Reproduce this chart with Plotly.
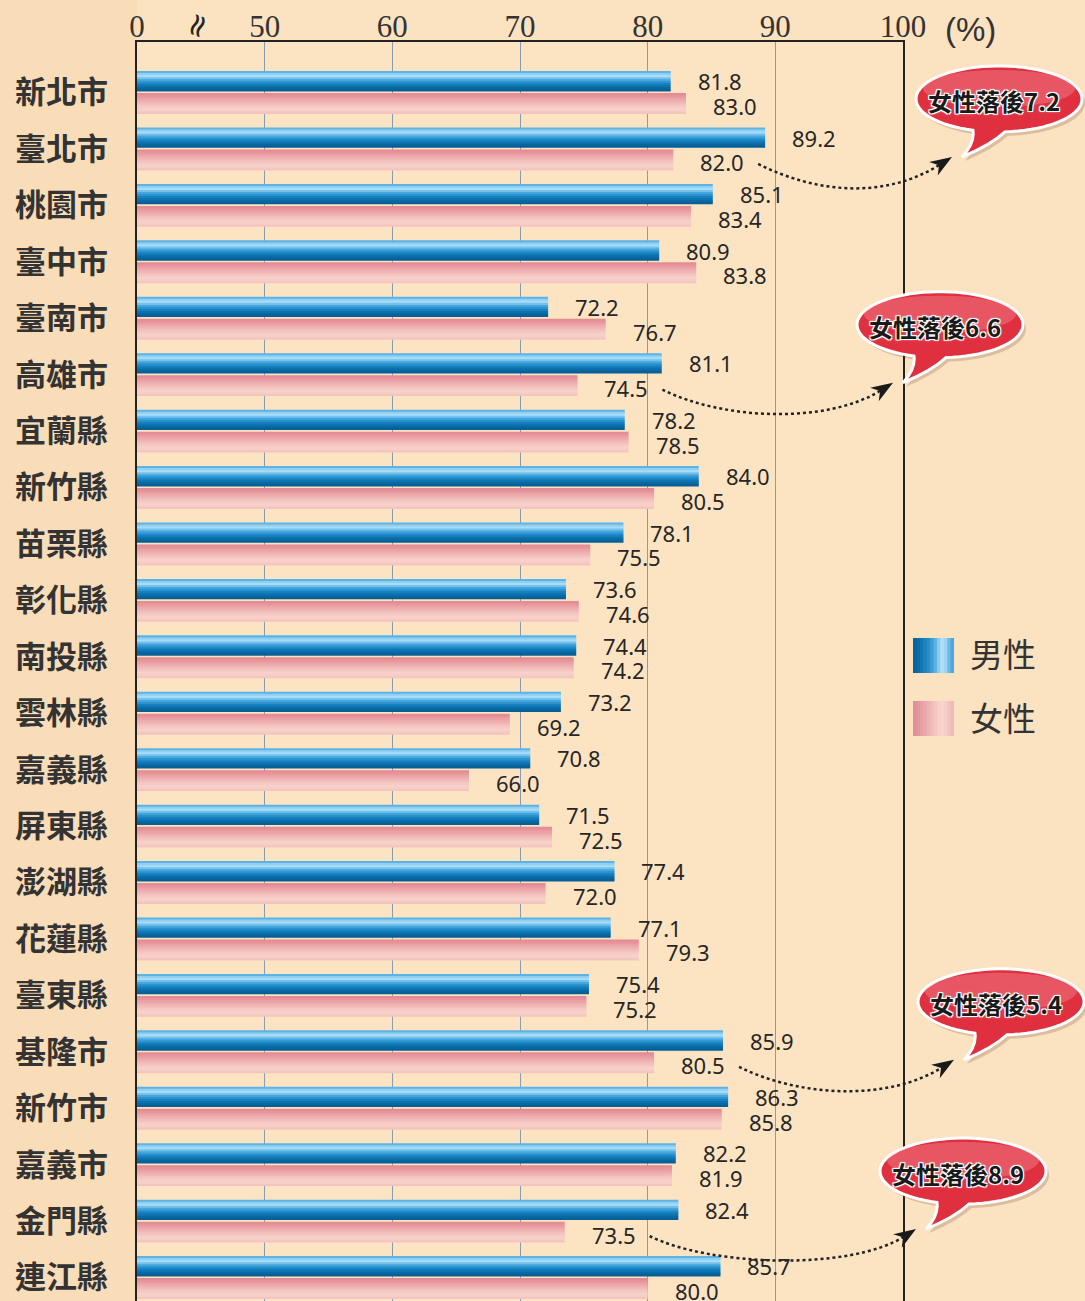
import math
import plotly.graph_objects as go

# ---------------- data ----------------
categories = ["新北市", "臺北市", "桃園市", "臺中市", "臺南市", "高雄市", "宜蘭縣",
              "新竹縣", "苗栗縣", "彰化縣", "南投縣", "雲林縣", "嘉義縣", "屏東縣",
              "澎湖縣", "花蓮縣", "臺東縣", "基隆市", "新竹市", "嘉義市", "金門縣", "連江縣"]
male = [81.8, 89.2, 85.1, 80.9, 72.2, 81.1, 78.2, 84.0, 78.1, 73.6, 74.4,
        73.2, 70.8, 71.5, 77.4, 77.1, 75.4, 85.9, 86.3, 82.2, 82.4, 85.7]
female = [83.0, 82.0, 83.4, 83.8, 76.7, 74.5, 78.5, 80.5, 75.5, 74.6, 74.2,
          69.2, 66.0, 72.5, 72.0, 79.3, 75.2, 80.5, 85.8, 81.9, 73.5, 80.0]
x_tickvals = [40, 50, 60, 70, 80, 90, 100]
x_ticktext = ["0", "50", "60", "70", "80", "90", "100"]
callout_rows = ["臺北市", "高雄市", "基隆市", "金門縣"]
series_names = ["男性", "女性"]

# ---------------- layout geometry ----------------
W, H = 1085, 1301
ML, MR, MT, MB = 137, 182, 42, 0
X0, X1 = 40, 100
Y_TOP, Y_BOT = -0.895, 21.416
PW, PH = W - ML - MR, H - MT - MB
bubble_cx = [999, 940, 1001, 963]   # layout: bubble centres (px)


def xpix(v):
    return ML + (v - X0) / (X1 - X0) * PW


def ypix(v):
    return MT + (v - Y_TOP) / (Y_BOT - Y_TOP) * PH


def paper(px, py):
    return ((px - ML) / PW, (H - MB - py) / PH)


def pt(px, py):
    x, y = paper(px, py)
    return f"{x:.5f},{y:.5f}"


male_cols = ["#5cb4e6", "#8fcff2", "#a9dcf6", "#73c2ed", "#45a6de",
             "#2a92cf", "#1781c0", "#0d73b0", "#0867a1", "#075f95"]
female_cols = ["#e48c94", "#e7959b", "#eaa0a4", "#edabad", "#f0b6b6",
               "#f3c0be", "#f5c9c4", "#f7d0c9", "#f7cec7", "#f4c4bf"]

pos = list(range(len(categories)))
fig = go.Figure()


def add_gradient_bars(values, cols, off0, off1, name):
    n = len(cols)
    w = (off1 - off0) / n
    for k, c in enumerate(cols):
        fig.add_trace(go.Bar(
            y=pos, x=values, orientation="h",
            offset=off0 + k * w, width=w * (1.4 if k < n - 1 else 1.0),
            marker=dict(color=c, line=dict(width=0)),
            name=name, showlegend=False,
            hoverinfo="x+name" if k == n // 2 else "skip",
        ))


add_gradient_bars(male, male_cols, -0.38, -0.02, series_names[0])
add_gradient_bars(female, female_cols, 0.01, 0.38, series_names[1])

annotations = []
# value labels
lab_font = dict(family="Noto Sans", size=22, color="#262626")
for i, (m, f) in enumerate(zip(male, female)):
    annotations.append(dict(x=m, y=i - 0.2, xref="x", yref="y", text=f"{m:.1f}",
                            showarrow=False, xanchor="left", yanchor="middle", xshift=25,
                            font=lab_font))
    annotations.append(dict(x=f, y=i + 0.24, xref="x", yref="y", text=f"{f:.1f}",
                            showarrow=False, xanchor="left", yanchor="middle", xshift=25,
                            font=lab_font))


def pann(px, py, text, font, xanchor="center", **kw):
    x, y = paper(px, py)
    d = dict(x=x, y=y, xref="paper", yref="paper", text=text, showarrow=False,
             xanchor=xanchor, yanchor="middle", font=font)
    d.update(kw)
    return d


# axis extras
annotations.append(pann(xpix(45) - 4, 25, "≈", dict(family="DejaVu Sans", size=32, color="#222"),
                        textangle=-70))
annotations.append(pann(970, 30, "(%)", dict(family="Liberation Sans", size=33, color="#333")))

shapes = []
# left label column tint
shapes.append(dict(type="rect", xref="paper", yref="paper", x0=-ML / PW, x1=0,
                   y0=-0.01, y1=(H - MB) / PH, fillcolor="#F9DCB8", line=dict(width=0), layer="below"))

# legend (custom gradient swatches)
leg_male = ["#0a64a0", "#0c6ca8", "#1176b2", "#1a82be", "#268fca", "#3a9dd6",
            "#5cb0e2", "#8ccbef", "#b2def6", "#a0d4f3", "#6cbae8", "#4aa8e0"]
leg_female = ["#e08f97", "#e3979d", "#e69fa3", "#e9a8aa", "#edb2b2", "#f0bcba",
              "#f3c6c1", "#f6cfc8", "#f8d5cc", "#f6cec7", "#f3c4be", "#efbab6"]
for cols, (ty, by_) in ((leg_male, (638, 673)), (leg_female, (701, 736))):
    n = len(cols)
    sx0, sx1 = 913, 954
    sw = (sx1 - sx0) / n
    for k, c in enumerate(cols):
        a0 = paper(sx0 + k * sw, by_)
        a1 = paper(sx0 + (k + 1) * sw + (0.6 if k < n - 1 else 0), ty)
        shapes.append(dict(type="rect", xref="paper", yref="paper", x0=a0[0], x1=a1[0],
                           y0=a0[1], y1=a1[1], fillcolor=c, line=dict(width=0)))
for name, cy in zip(series_names, (653, 717)):
    annotations.append(pann(968, cy, name, dict(family="Noto Sans CJK TC", size=33, color="#333"),
                            xanchor="left"))


# callout bubbles + dotted arrows
def bubble_path(cx, cy, rx=83, ry=33, dx=0, dy=0):
    cx += dx
    cy += dy
    thl = math.radians(108.3)
    thr = math.radians(85.9 + 360)
    pts = []
    steps = 72
    for s in range(steps + 1):
        th = thl + (thr - thl) * s / steps
        pts.append((cx + rx * math.cos(th), cy + ry * math.sin(th)))
    d = "M" + pt(*pts[0])
    for p in pts[1:]:
        d += " L" + pt(*p)
    tip = (cx - 37, cy + 58)
    lb = pts[0]
    d += " Q" + pt(cx - 8, cy + 46) + " " + pt(*tip)
    d += " Q" + pt(cx - 24, cy + 44) + " " + pt(*lb) + " Z"
    return d


for k, row in enumerate(callout_rows):
    i = categories.index(row)
    diff = male[i] - female[i]
    cx = bubble_cx[k]
    cy = ypix(i) - 50
    # shadow, body, gloss
    shapes.append(dict(type="path", xref="paper", yref="paper", path=bubble_path(cx, cy, dx=3, dy=4),
                       fillcolor="rgba(110,60,30,0.22)", line=dict(width=0)))
    shapes.append(dict(type="path", xref="paper", yref="paper", path=bubble_path(cx, cy),
                       fillcolor="#e0303f", line=dict(color="white", width=3)))
    g0 = paper(cx - 76, cy + 8)
    g1 = paper(cx + 76, cy - 29)
    shapes.append(dict(type="circle", xref="paper", yref="paper", x0=g0[0], x1=g1[0], y0=g0[1], y1=g1[1],
                       fillcolor="rgba(255,185,195,0.28)", line=dict(width=0)))
    annotations.append(pann(cx - 5, cy + 2, f"女性落後{diff:.1f}",
                            dict(family="Noto Sans CJK TC", size=24, color="#1a1a1a", weight="bold",
                                 shadow="1px 1px 0 #fff, -1px -1px 0 #fff, 1px -1px 0 #fff, -1px 1px 0 #fff, 0 0 3px #fff")))
    # dotted arrow
    S = (xpix(female[i]) + 85, ypix(i) + 15)
    Tt = (cx - 47, cy + 58)
    ux, uy = 55, -35
    ln = math.hypot(ux, uy)
    ux, uy = ux / ln, uy / ln
    Lh, Wh = 22, 8
    E = (Tt[0] - 0.6 * Lh * ux, Tt[1] - 0.6 * Lh * uy)
    c1 = (S[0] + 60, S[1] + 30)
    c2 = (E[0] - 55, E[1] + 35)
    shapes.append(dict(type="path", xref="paper", yref="paper",
                       path="M" + pt(*S) + " C" + pt(*c1) + " " + pt(*c2) + " " + pt(*E),
                       line=dict(color="#222", width=2.5, dash="dot")))
    Bk = (Tt[0] - Lh * ux, Tt[1] - Lh * uy)
    nx, ny = -uy, ux
    head = ("M" + pt(*Tt) + " L" + pt(Bk[0] + Wh * nx, Bk[1] + Wh * ny) +
            " L" + pt(Tt[0] - 0.7 * Lh * ux, Tt[1] - 0.7 * Lh * uy) +
            " L" + pt(Bk[0] - Wh * nx, Bk[1] - Wh * ny) + " Z")
    shapes.append(dict(type="path", xref="paper", yref="paper", path=head,
                       fillcolor="#1a1a1a", line=dict(width=0)))

fig.update_layout(
    width=W, height=H,
    margin=dict(l=ML, r=MR, t=MT, b=MB, pad=0),
    paper_bgcolor="#FBE2C0", plot_bgcolor="#FCE4C3",
    barmode="overlay", showlegend=False,
    annotations=annotations, shapes=shapes,
    xaxis=dict(range=[X0, X1], side="top", tickvals=x_tickvals, ticktext=x_ticktext,
               showgrid=True, gridcolor="#8a9bb2", gridwidth=1, zeroline=False,
               showline=True, linecolor="#222", linewidth=1.5,
               ticks="", ticklabelstandoff=-9,
               tickfont=dict(family="Liberation Serif", size=31, color="#333")),
    yaxis=dict(range=[Y_BOT, Y_TOP], tickvals=pos, ticktext=categories,
               showgrid=False, zeroline=False, showline=True, mirror=True,
               linecolor="#222", linewidth=1.5, ticks="outside", ticklen=0,
               ticklabelstandoff=21,
               tickfont=dict(family="Noto Sans CJK TC", size=31, color="#333", weight="bold")),
)

fig.write_html("out.html", config={"displayModeBar": False},
               post_script="document.body.style.margin='0';document.body.style.overflow='hidden';")
